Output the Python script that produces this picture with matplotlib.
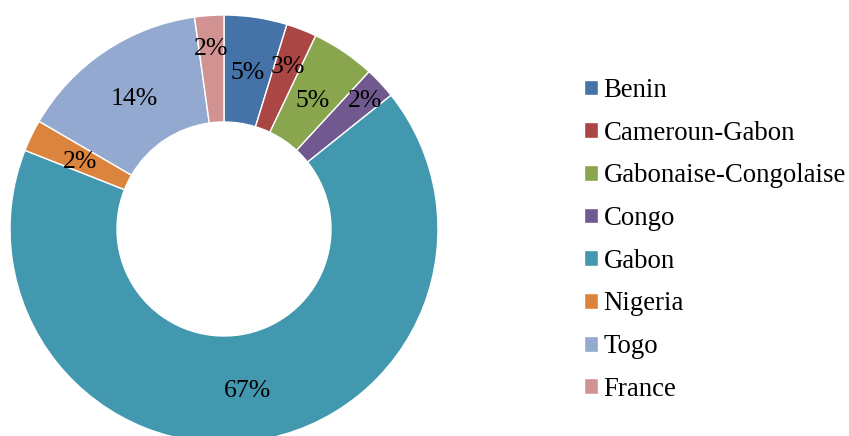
import matplotlib
matplotlib.use('Agg')
import numpy as np
import matplotlib.pyplot as plt

# data (shares, labels as printed on the chart)
countries = ['Benin', 'Cameroun-Gabon', 'Gabonaise-Congolaise', 'Congo',
             'Gabon', 'Nigeria', 'Togo', 'France']
shares = [4.75, 2.3, 4.8, 2.4, 66.7, 2.4, 14.4, 2.2]
pct_labels = ['5%', '3%', '5%', '2%', '67%', '2%', '14%', '2%']
colors = ['#4572A7', '#AA4643', '#89A54E', '#71588F',
          '#4198AF', '#DB843D', '#93A9CF', '#D19392']
# radial position of each label (Excel pushes a few outwards)
label_r = [0.75, 0.83, 0.74, 0.90, 0.75, 0.75, 0.75, 0.86]

plt.rcParams['font.family'] = ['Liberation Serif', 'DejaVu Serif']

W, H = 849, 436
fig = plt.figure(figsize=(W / 100, H / 100), dpi=100)

# pie axes placed in pixels: centre (224, 229 from top), radius 214
cx, cy, r = 224, 229, 214
ax = fig.add_axes([(cx - r) / W, (H - cy - r) / H, 2 * r / W, 2 * r / H])
wedges, _ = ax.pie(shares, colors=colors, startangle=90, counterclock=False,
                   radius=1,
                   wedgeprops=dict(width=0.5, edgecolor='white', linewidth=1))
for w, lab, rr in zip(wedges, pct_labels, label_r):
    ang = np.deg2rad((w.theta1 + w.theta2) / 2)
    ax.text(rr * np.cos(ang), rr * np.sin(ang) - 0.015, lab, ha='center', va='center',
            fontsize=18.5, color='black')
ax.set_xlim(-1, 1)
ax.set_ylim(-1, 1)
ax.set_aspect('equal')
ax.axis('off')

fig.legend(wedges, countries, loc='upper left',
           bbox_to_anchor=(584 / W, 1 - 78 / H), frameon=False, fontsize=19.3,
           handlelength=0.53, handleheight=0.53, handletextpad=0.2,
           labelspacing=0.66, borderpad=0, borderaxespad=0)

fig.savefig('out.png', dpi=100)
